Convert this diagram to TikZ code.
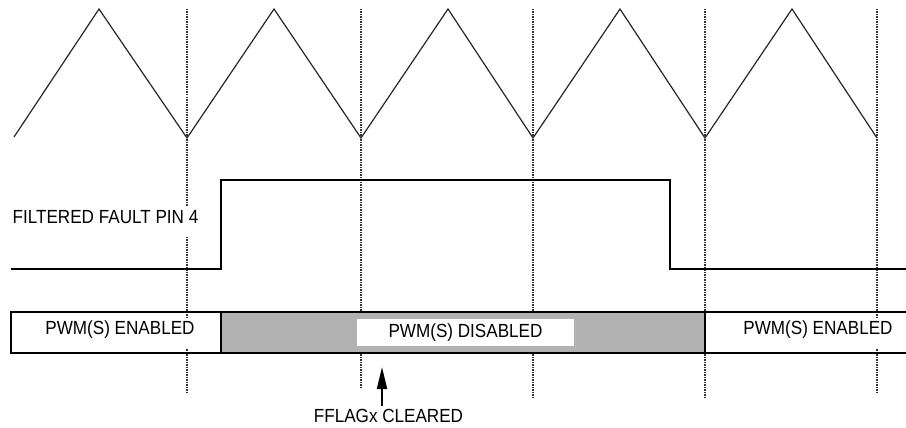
\documentclass[tikz,border=0pt]{standalone}
\usepackage{fontspec}
\setmainfont{Liberation Sans}
\newfontfamily\narrowsans[FakeStretch=0.9]{Liberation Sans}
\usetikzlibrary{arrows.meta}
\tikzset{
  gridline/.style={dash pattern=on 1.5pt off 1pt, line width=1.4pt, black!80},
  wave/.style={line width=1.2pt, black!85, line join=miter},
  sig/.style={line width=2pt, black},
  lbl/.style={font=\narrowsans\fontsize{19}{22}\selectfont, inner sep=0pt},
  lblbg/.style={lbl, fill=white, inner xsep=1pt, text height=16pt, text depth=14pt},
}
\begin{document}
\begin{tikzpicture}[x=1pt,y=-1pt]
\useasboundingbox (0,0) rectangle (906,428);
% vertical reference lines
\draw[gridline] (187,9) -- (187,393);
\draw[gridline] (361,9) -- (361,388);
\draw[gridline] (533,9) -- (533,397);
\draw[gridline] (705,9) -- (705,398);
\draw[gridline] (877,9) -- (877,393);
% triangle carrier
\draw[wave] (14,137) -- (99,9) -- (187,138) -- (274,9) -- (361,138) -- (448,9)
  -- (533,138) -- (620,9) -- (705,138) -- (792,9) -- (877,138);
% filtered fault pin
\draw[sig] (11,269) -- (221,269) -- (221,180) -- (670,180) -- (670,269) -- (906,269);
% PWM state bar
\fill[black!30] (221,312) rectangle (705,353);
\draw[sig] (906,312) -- (11,312) -- (11,353) -- (906,353);
\draw[sig] (221,312) -- (221,353);
\draw[sig] (705,312) -- (705,353);
% labels
\node[lblbg, anchor=base] (fault) at (105.5,223) {FILTERED FAULT PIN 4};
\node[lblbg, anchor=base] (en1) at (120,334) {PWM(S) ENABLED};
\node[lbl, fill=white, minimum width=217pt, minimum height=27pt] (dis) at (465.5,332.5) {PWM(S) DISABLED};
\node[lblbg, anchor=base] (en2) at (818,334) {PWM(S) ENABLED};
\node[lbl, anchor=base, inner sep=3pt] (ff) at (388.5,422) {FFLAGx CLEARED};
\coordinate (tip) at (382,367);
\draw[-{Triangle[length=22pt,width=10pt]}, line width=2pt] (tip |- ff.north) -- (tip);
\end{tikzpicture}
\end{document}
